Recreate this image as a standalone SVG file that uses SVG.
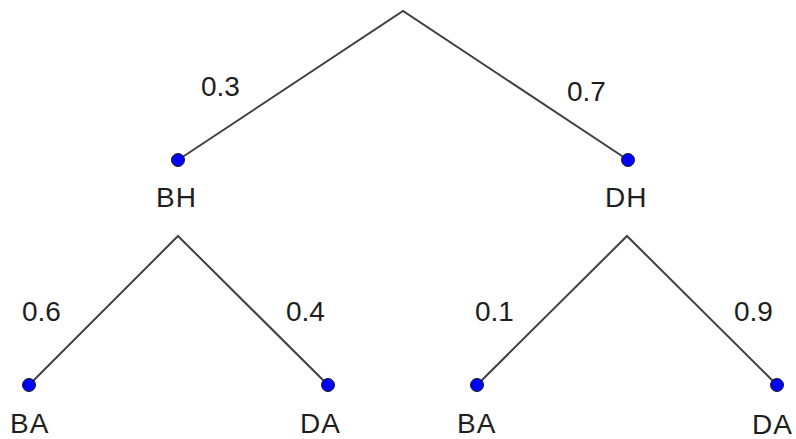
<svg xmlns="http://www.w3.org/2000/svg" width="796" height="439" viewBox="0 0 796 439">
<style>
.e{stroke:#404040;stroke-width:2;fill:none}
.d{fill:#0000ff;stroke:#1a1a1a;stroke-width:1}
text{font-family:"Liberation Sans",Arial,sans-serif;font-size:28px;fill:#1e1e1e}
.n{letter-spacing:1px}
</style>
<rect width="796" height="439" fill="#fff"/>
<g id="connectors">
<polyline class="e" points="178,160 403,11 628,160"/>
<polyline class="e" points="29,385 178,236 328,385"/>
<polyline class="e" points="477,385 627,236 777,385"/>
</g>
<g id="labels">
<text x="201" y="96">0.3</text>
<text x="567" y="101">0.7</text>
<text x="22" y="321">0.6</text>
<text x="286" y="321">0.4</text>
<text x="475" y="321">0.1</text>
<text x="734" y="321">0.9</text>
</g>
<g id="BH"><circle class="d" cx="178" cy="160" r="6.5"/><text class="n" x="156" y="207">BH</text></g>
<g id="DH"><circle class="d" cx="628" cy="160" r="6.5"/><text class="n" x="605" y="207">DH</text></g>
<g id="BA1"><circle class="d" cx="29" cy="385" r="6.5"/><text class="n" x="10" y="433">BA</text></g>
<g id="DA1"><circle class="d" cx="328" cy="385" r="6.5"/><text class="n" x="300" y="433">DA</text></g>
<g id="BA2"><circle class="d" cx="477" cy="385" r="6.5"/><text class="n" x="457" y="433">BA</text></g>
<g id="DA2"><circle class="d" cx="777" cy="385" r="6.5"/><text class="n" x="752" y="434">DA</text></g>
</svg>
